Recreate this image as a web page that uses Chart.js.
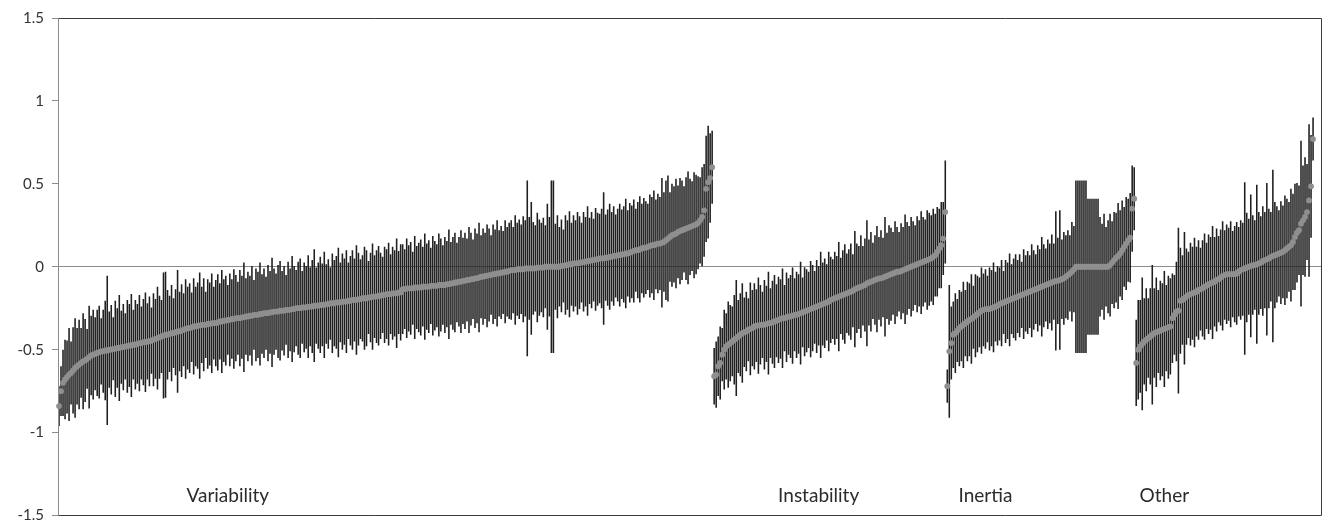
<!DOCTYPE html>
<html>
<head>
<meta charset="utf-8">
<script src="https://cdn.jsdelivr.net/npm/chart.js@4.4.1/dist/chart.umd.min.js"></script>
<style>
html,body{margin:0;padding:0;background:#fff;}
#c{display:block;}
</style>
</head>
<body>
<canvas id="c" width="1325" height="531"></canvas>
<script>
// ---------- DATA ----------
const groupNames = ['Variability', 'Instability', 'Inertia', 'Other'];

const variability = [
-0.84,-0.75,-0.70,-0.68,-0.665,-0.65,-0.64,-0.625,-0.61,-0.60,
-0.59,-0.58,-0.57,-0.565,-0.555,-0.545,-0.535,-0.53,-0.525,-0.52,
-0.515,-0.51,-0.51,-0.505,-0.505,-0.50,-0.50,-0.495,-0.495,-0.49,
-0.49,-0.485,-0.485,-0.48,-0.48,-0.475,-0.475,-0.47,-0.47,-0.465,-0.46,-0.46,-0.455,-0.455,-0.45,
-0.45,-0.445,-0.44,-0.435,-0.43,-0.425,-0.42,-0.415,-0.41,-0.41,-0.405,-0.40,-0.40,-0.395,-0.39,-0.39,-0.385,
-0.38,-0.375,-0.37,-0.37,-0.365,-0.36,-0.36,-0.355,-0.355,-0.35,-0.35,-0.35,-0.345,-0.345,-0.34,-0.34,-0.34,
-0.335,-0.33,-0.33,-0.325,-0.325,-0.32,-0.32,-0.315,-0.315,-0.31,-0.31,-0.31,-0.305,-0.305,-0.30,-0.30,
-0.295,-0.295,-0.29,-0.29,-0.29,-0.285,-0.285,-0.28,-0.28,-0.28,-0.275,-0.275,-0.27,-0.27,-0.27,-0.265,-0.265,
-0.265,-0.26,-0.26,-0.26,-0.255,-0.255,-0.25,-0.25,-0.25,-0.245,-0.245,-0.245,-0.24,-0.24,-0.24,-0.235,
-0.235,-0.235,-0.23,-0.23,-0.23,-0.225,-0.225,-0.22,-0.22,-0.22,-0.215,-0.215,-0.215,-0.21,-0.21,-0.21,-0.205,
-0.205,-0.20,-0.20,-0.20,-0.195,-0.195,-0.19,-0.19,-0.19,-0.185,-0.185,-0.18,-0.18,-0.18,-0.175,-0.175,
-0.17,-0.17,-0.165,-0.165,-0.165,-0.16,-0.16,-0.16,-0.155,-0.155,
-0.135,-0.135,-0.13,-0.13,-0.13,-0.13,-0.125,-0.125,-0.125,-0.125,-0.12,-0.12,-0.12,-0.12,-0.115,-0.115,-0.115,-0.115,-0.11,-0.11,-0.11,-0.11,
-0.105,-0.105,-0.10,-0.10,-0.095,-0.095,-0.09,-0.09,-0.085,-0.085,-0.08,-0.08,-0.075,-0.075,-0.07,-0.07,
-0.065,-0.06,-0.06,-0.055,-0.055,-0.05,-0.05,-0.045,-0.045,-0.04,-0.04,-0.035,-0.035,-0.03,-0.03,-0.025,-0.02,
-0.02,-0.02,-0.015,-0.015,-0.015,-0.015,-0.01,-0.01,-0.01,-0.01,-0.01,-0.01,-0.005,-0.005,-0.005,-0.005,
0,0,0,0,0,0,0,0,0.005,0.005,
0.01,0.01,0.015,0.015,0.02,0.02,0.02,0.025,0.025,0.03,0.03,0.035,0.035,0.04,0.04,
0.045,0.045,0.05,0.05,0.05,0.055,0.055,0.06,0.06,0.065,0.065,0.07,0.07,0.075,0.075,0.08,
0.08,0.085,0.09,0.095,0.10,0.10,0.105,0.11,0.115,0.115,0.12,0.125,0.13,0.13,0.135,0.14,0.14,
0.145,0.15,0.16,0.17,0.18,0.19,0.195,0.20,
0.21,0.215,0.22,0.225,0.23,0.235,0.24,0.245,0.25,0.255,0.265,
0.28,0.30,0.34,0.47,0.51,0.535,0.60
];
const variabilityErr = [
.12,.15,.20,.24,.22,.28,.19,.26,.30,.23,.27,.21,.29,.25,.18,.31,.24,.27,.22,.26,
.28,.20,.25,.30,.45,.23,.27,.19,.29,.24,.32,.22,.26,.20,.28,.25,.31,.21,.27,.24,
.29,.22,.26,.30,.23,.27,.20,.28,.24,.31,.25,.22,.38,.38,.27,.23,.29,.21,.26,.37,
.24,.28,.22,.30,.25,.27,.21,.29,.24,.26,.32,.23,.28,.20,.27,.25,.30,.22,.26,.29,
.23,.31,.25,.27,.21,.28,.24,.30,.26,.22,.29,.25,.33,.23,.27,.24,.30,.21,.28,.26,
.31,.24,.27,.22,.29,.25,.33,.26,.23,.28,.30,.24,.27,.21,.29,.25,.32,.26,.23,.28,
.30,.22,.27,.25,.31,.24,.28,.34,.23,.26,.29,.25,.32,.24,.27,.22,.30,.26,.28,.33,
.24,.29,.26,.31,.23,.27,.30,.25,.33,.28,.24,.26,.31,.29,.22,.27,.32,.25,.28,.30,
.26,.23,.29,.27,.31,.24,.28,.26,.33,.25,.29,.27,.24,.30,.26,.28,.22,.31,.25,.27,
.29,.24,.32,.26,.28,.23,.30,.27,.25,.31,.28,.24,.29,.26,.33,.25,.28,.30,.24,.27,
.31,.26,.29,.25,.32,.28,.24,.30,.27,.33,.25,.29,.26,.31,.28,.24,.30,.27,.32,.26,
.28,.25,.31,.27,.29,.30,.26,.33,.28,.30,.27,.32,.29,.53,.31,.40,.28,.26,.33,.29,
.27,.30,.25,.38,.30,.52,.52,.26,.31,.24,.28,.22,.30,.27,.32,.25,.29,.26,.31,.28,
.24,.30,.27,.33,.26,.29,.25,.31,.28,.27,.30,.40,.26,.29,.32,.27,.30,.25,.28,.31,
.27,.29,.33,.26,.30,.28,.31,.25,.29,.32,.27,.30,.28,.26,.31,.29,.33,.27,.30,.28,
.39,.30,.36,.38,.27,.31,.29,.33,.28,.32,.30,.26,.31,.34,.29,.27,.32,.30,.28,.26,
.30,.28,.32,.34,.27,.22
];

const instability = [
-0.66,-0.65,-0.60,-0.58,-0.53,-0.50,-0.48,-0.47,-0.46,-0.45,
-0.44,-0.43,-0.42,-0.41,-0.40,-0.395,-0.39,-0.38,-0.375,-0.37,
-0.36,-0.355,-0.355,-0.35,-0.35,-0.35,-0.345,-0.34,-0.34,-0.335,
-0.33,-0.325,-0.32,-0.315,-0.31,-0.31,-0.305,-0.30,-0.30,-0.295,
-0.29,-0.29,-0.285,-0.28,-0.275,-0.27,-0.265,-0.26,-0.255,-0.25,
-0.245,-0.24,-0.235,-0.23,-0.225,-0.22,-0.215,-0.21,-0.20,-0.195,
-0.19,-0.185,-0.18,-0.175,-0.17,-0.165,-0.16,-0.155,-0.15,-0.145,
-0.135,-0.13,-0.125,-0.12,-0.115,-0.11,-0.10,-0.095,-0.09,-0.085,
-0.08,-0.075,-0.07,-0.07,-0.065,-0.06,-0.055,-0.05,-0.045,-0.04,
-0.035,-0.03,-0.03,-0.027,-0.02,-0.015,-0.01,-0.005,0,0.005,
0.01,0.015,0.02,0.025,0.03,0.035,0.04,0.045,0.05,0.06,
0.07,0.09,0.11,0.13,0.17,0.33
];
const instabilityErr = [
.17,.20,.18,.22,.16,.24,.20,.26,.23,.21,.27,.35,.22,.25,.30,.21,.24,.19,.28,.23,
.26,.22,.29,.24,.20,.27,.23,.31,.21,.25,.28,.22,.26,.24,.30,.20,.27,.23,.25,.29,
.22,.26,.24,.31,.21,.27,.25,.23,.29,.26,.22,.28,.24,.32,.25,.27,.23,.30,.26,.24,
.28,.25,.33,.23,.27,.30,.24,.26,.29,.22,.35,.27,.25,.31,.24,.28,.38,.26,.30,.23,
.27,.32,.25,.29,.24,.36,.26,.30,.28,.25,.31,.27,.24,.29,.26,.33,.28,.25,.30,.27,
.24,.29,.26,.31,.27,.25,.30,.28,.26,.29,.25,.27,.24,.26,.22,.31
];

const inertia = [
-0.72,-0.51,-0.46,-0.41,-0.40,-0.385,-0.37,-0.36,-0.35,-0.34,
-0.33,-0.32,-0.315,-0.305,-0.295,-0.285,-0.275,-0.265,-0.26,-0.255,
-0.255,-0.255,-0.25,-0.245,-0.24,-0.235,-0.225,-0.22,-0.215,-0.21,
-0.205,-0.20,-0.195,-0.19,-0.185,-0.18,-0.175,-0.17,-0.165,-0.16,
-0.155,-0.15,-0.145,-0.14,-0.135,-0.13,-0.125,-0.12,-0.115,-0.11,
-0.105,-0.10,-0.095,-0.09,-0.085,-0.085,-0.08,-0.075,-0.07,-0.06,
-0.05,-0.04,-0.03,-0.015,0,0,0,0,0,0,
0,0,0,0,0,0,0,0,0,0,
0,0.01,0.025,0.04,0.055,0.065,0.08,0.10,0.12,0.14,
0.16,0.175,0.35,0.41
];
const inertiaErr = [
.10,.40,.22,.20,.24,.19,.23,.21,.26,.20,.24,.22,.27,.19,.25,.23,.21,.26,.22,.24,
.20,.25,.23,.27,.21,.24,.22,.26,.19,.25,.23,.28,.21,.24,.26,.22,.25,.20,.27,.23,
.25,.22,.28,.24,.21,.26,.23,.30,.25,.22,.27,.24,.29,.23,.42,.26,.42,.24,.28,.25,
.27,.23,.30,.26,.52,.52,.52,.52,.52,.52,.41,.41,.41,.41,.41,.41,.30,.26,.32,.24,
.28,.31,.25,.29,.27,.32,.26,.30,.24,.28,.25,.27,.26,.19
];

const other = [
-0.58,-0.50,-0.48,-0.465,-0.45,-0.44,-0.43,-0.42,-0.41,-0.40,
-0.395,-0.39,-0.385,-0.38,-0.375,-0.37,-0.365,-0.36,-0.31,-0.29,
-0.27,-0.265,-0.205,-0.20,-0.19,-0.18,-0.17,-0.165,-0.16,-0.155,
-0.15,-0.14,-0.135,-0.13,-0.12,-0.115,-0.105,-0.10,-0.095,-0.09,
-0.08,-0.075,-0.065,-0.055,-0.05,-0.045,-0.045,-0.045,-0.045,-0.045,
-0.04,-0.03,-0.02,-0.015,-0.01,-0.005,0,0.005,0.01,0.01,
0.015,0.02,0.025,0.035,0.04,0.045,0.05,0.06,0.065,0.07,
0.075,0.08,0.085,0.09,0.10,0.11,0.12,0.13,0.15,0.18,
0.205,0.22,0.26,0.28,0.30,0.33,0.40,0.485,0.77
];
const otherErr = [
.26,.30,.28,.40,.26,.31,.24,.29,.42,.27,.33,.25,.30,.28,.35,.26,.31,.29,.27,.24,
.30,.50,.32,.27,.40,.29,.26,.31,.28,.33,.27,.30,.25,.29,.32,.26,.30,.28,.34,.27,
.31,.26,.29,.33,.27,.30,.28,.32,.26,.29,.31,.27,.30,.28,.52,.33,.29,.43,.30,.27,
.48,.31,.28,.33,.29,.46,.30,.27,.52,.32,.29,.26,.31,.28,.33,.30,.27,.34,.29,.32,
.30,.27,.50,.33,.36,.29,.46,.31,.13
];

// empty rows that close the category axis on the right
const trailingBlankRows = 4;

const yTicks = [-1.5, -1, -0.5, 0, 0.5, 1, 1.5];
const yTickLabels = ['-1.5', '-1', '-0.5', '0', '0.5', '1', '1.5'];

// ---------- build library data ----------
const groups = [
  [variability, variabilityErr],
  [instability, instabilityErr],
  [inertia, inertiaErr],
  [other, otherErr]
];
groups.forEach((g, k) => {
  if (g[0].length !== g[1].length) throw new Error(groupNames[k] + ' length mismatch ' + g[0].length + ' vs ' + g[1].length);
});

const centers = [], ranges = [], labels = [], groupStart = [];
groups.forEach((g) => {
  groupStart.push(centers.length);
  g[0].forEach((c, i) => {
    const e = g[1][i];
    centers.push(c);
    ranges.push([c - e, c + e]);
    labels.push('');
  });
});
for (let i = 0; i < trailingBlankRows; i++) { centers.push(null); ranges.push(null); labels.push(''); }

// group label placement (category index offset inside group, y value)
const groupLabelPlacement = [
  { offset: 84, y: -1.42 },
  { offset: 52, y: -1.42 },
  { offset: 19, y: -1.42 },
  { offset: 14, y: -1.42 }
];

const frame = {
  id: 'frame',
  afterDraw(chart) {
    const { ctx, chartArea: a, scales } = chart;
    ctx.save();
    ctx.strokeStyle = '#3c3c3c';
    ctx.lineWidth = 1;
    const L = Math.round(a.left) + 0.5, R = Math.round(a.right) - 0.5;
    const T = Math.round(a.top) + 0.5, B = Math.round(a.bottom) - 0.5;
    ctx.beginPath();
    ctx.moveTo(L, T); ctx.lineTo(R, T); ctx.lineTo(R, B); ctx.lineTo(L, B);
    ctx.stroke();
    ctx.strokeStyle = '#8c8c8c';
    ctx.beginPath(); ctx.moveTo(L, T - 0.5); ctx.lineTo(L, B + 0.5); ctx.stroke();
    // group names
    ctx.fillStyle = '#2b2b2b';
    ctx.font = '19px Lato, "Open Sans", sans-serif';
    ctx.textAlign = 'center';
    ctx.textBaseline = 'alphabetic';
    groupNames.forEach((name, k) => {
      const p = groupLabelPlacement[k];
      const x = scales.x.getPixelForValue(groupStart[k] + p.offset);
      const y = scales.y.getPixelForValue(p.y);
      ctx.fillText(name, x, y);
    });
    ctx.restore();
  }
};

new Chart(document.getElementById('c'), {
  type: 'bar',
  data: {
    labels: labels,
    datasets: [
      {
        type: 'line',
        data: centers,
        showLine: false,
        pointRadius: 2.9,
        pointHoverRadius: 2.9,
        pointBackgroundColor: '#8f8f8f',
        pointBorderWidth: 0,
        order: 0
      },
      {
        type: 'bar',
        data: ranges,
        backgroundColor: '#1f1f1f',
        borderWidth: 0,
        barPercentage: 0.78,
        categoryPercentage: 1,
        order: 1
      }
    ]
  },
  options: {
    responsive: false,
    animation: false,
    events: [],
    layout: { padding: { top: 18, right: 2, bottom: 8, left: 0 } },
    plugins: { legend: { display: false }, tooltip: { enabled: false } },
    scales: {
      x: { type: 'category', display: false, offset: true, grid: { display: false } },
      y: {
        min: -1.5, max: 1.5,
        afterFit(s) { s.width = 58; },
        afterBuildTicks(s) { s.ticks = yTicks.map(v => ({ value: v })); },
        ticks: {
          padding: 8,
          color: '#333',
          font: { family: 'Lato, "Open Sans", sans-serif', size: 15, lineHeight: 1 },
          callback(v) {
            const k = yTicks.findIndex(t => Math.abs(t - v) < 1e-9);
            return k >= 0 ? yTickLabels[k] : '';
          }
        },
        grid: {
          color: (c) => (c.tick && Math.abs(c.tick.value) < 1e-9) ? '#8c8c8c' : 'rgba(0,0,0,0)',
          tickColor: '#8c8c8c',
          tickLength: 6,
          lineWidth: 1
        },
        border: { display: true, color: '#8c8c8c', width: 1 }
      }
    }
  },
  plugins: [frame]
});
</script>
</body>
</html>
